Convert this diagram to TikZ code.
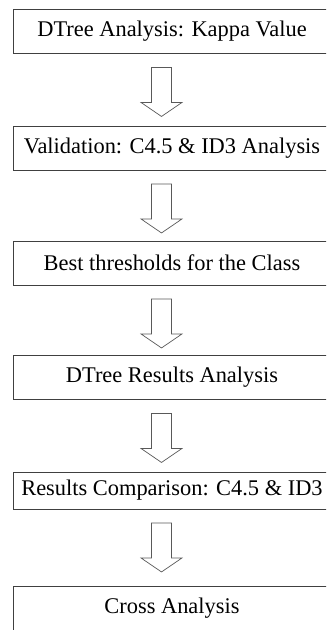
\documentclass[tikz,border=0pt]{standalone}
\usepackage{fontspec}
\setmainfont{Liberation Serif}
\usetikzlibrary{calc}

\begin{document}
\begin{tikzpicture}[x=1bp,y=-1bp,
    stepbox/.style={draw=black!75,line width=.9pt,minimum width=318bp,minimum height=44bp,inner sep=0pt,
      font=\fontsize{22.5}{26}\selectfont},
    hollow/.style={draw=black!65,line width=.7pt,fill=white}]

  %% page size and cut at the right edge
  \useasboundingbox (0,0) rectangle (326,630);
  \clip (0,0) rectangle (326,630);

  %% steps of the analysis
  \node[stepbox] (kappa) at (172,31.5) {DTree Analysis: Kappa Value};
  \node[stepbox] (valid) at (172,148) {Validation: C4.5 \& ID3 Analysis};
  \node[stepbox] (thres) at (172,263) {Best thresholds for the Class};
  \node[stepbox] (dres)  at (172,377.5) {DTree Results Analysis};
  \node[stepbox,minimum height=37bp] (comp) at (172,490.5) {Results Comparison: C4.5 \& ID3};
  \node[stepbox] (cross) at (172,608.5) {Cross Analysis};

  %% hollow block arrows between the steps
  \foreach \a/\b in {kappa/valid,valid/thres,thres/dres,dres/comp,comp/cross}{
    \coordinate (s) at ($(\a.south)+(-10.5,13.5)$);
    \coordinate (t) at ($(s)+(0,49)$);
    \draw[hollow] let \p1=(s), \p2=(t) in
      (\x1-10bp,\y1) -- (\x1+10bp,\y1) -- (\x1+10bp,\y2+14bp) -- (\x1+20.5bp,\y2+14bp)
      -- (\x2,\y2) -- (\x1-20.5bp,\y2+14bp) -- (\x1-10bp,\y2+14bp) -- cycle;
  }

\end{tikzpicture}
\end{document}
